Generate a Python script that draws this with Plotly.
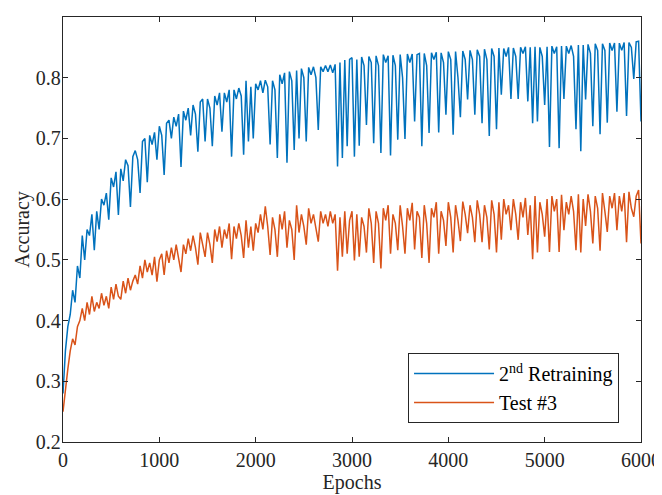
import plotly.graph_objects as go

epoch_step = 25
n_points = 241

retraining_acc = [
    0.28, 0.35, 0.39, 0.41, 0.45, 0.43, 0.49, 0.47, 0.54, 0.50,
    0.55, 0.54, 0.575, 0.516, 0.58, 0.55, 0.60, 0.59, 0.61, 0.566,
    0.635, 0.62, 0.645, 0.574, 0.65, 0.63, 0.665, 0.655, 0.587, 0.67,
    0.68, 0.665, 0.61, 0.695, 0.70, 0.628, 0.705, 0.69, 0.71, 0.665,
    0.72, 0.705, 0.64, 0.725, 0.73, 0.70, 0.735, 0.72, 0.74, 0.653,
    0.745, 0.73, 0.75, 0.705, 0.755, 0.74, 0.678, 0.76, 0.765, 0.695,
    0.765, 0.75, 0.687, 0.77, 0.755, 0.775, 0.711, 0.775, 0.76, 0.78,
    0.670, 0.78, 0.765, 0.783, 0.77, 0.673, 0.795, 0.695, 0.785, 0.70,
    0.79, 0.78, 0.795, 0.775, 0.796, 0.785, 0.69, 0.795, 0.78, 0.668,
    0.805, 0.79, 0.808, 0.66, 0.81, 0.795, 0.681, 0.812, 0.70, 0.815,
    0.80, 0.695, 0.817, 0.805, 0.818, 0.80, 0.714, 0.818, 0.81, 0.82,
    0.81, 0.821, 0.808, 0.822, 0.654, 0.825, 0.668, 0.829, 0.687, 0.83,
    0.833, 0.67, 0.83, 0.688, 0.834, 0.82, 0.722, 0.835, 0.825, 0.692,
    0.836, 0.82, 0.676, 0.838, 0.825, 0.836, 0.672, 0.837, 0.82, 0.698,
    0.838, 0.80, 0.699, 0.839, 0.825, 0.839, 0.728, 0.838, 0.84, 0.687,
    0.84, 0.82, 0.709, 0.841, 0.83, 0.842, 0.71, 0.841, 0.825, 0.739,
    0.843, 0.83, 0.706, 0.843, 0.80, 0.735, 0.844, 0.83, 0.764, 0.845,
    0.83, 0.739, 0.846, 0.835, 0.725, 0.847, 0.83, 0.704, 0.848, 0.835,
    0.715, 0.849, 0.772, 0.848, 0.835, 0.85, 0.765, 0.849, 0.835, 0.765,
    0.85, 0.84, 0.851, 0.761, 0.85, 0.725, 0.851, 0.728, 0.85, 0.835,
    0.755, 0.851, 0.686, 0.852, 0.84, 0.851, 0.684, 0.852, 0.765, 0.852,
    0.84, 0.853, 0.835, 0.715, 0.854, 0.679, 0.854, 0.764, 0.855, 0.84,
    0.72, 0.856, 0.845, 0.707, 0.856, 0.845, 0.726, 0.857, 0.845, 0.857,
    0.744, 0.857, 0.845, 0.858, 0.737, 0.858, 0.85, 0.798, 0.859, 0.86,
    0.728,
]

test3_acc = [
    0.25, 0.29, 0.32, 0.35, 0.37, 0.36, 0.39, 0.40, 0.42, 0.40,
    0.43, 0.41, 0.44, 0.415, 0.43, 0.42, 0.445, 0.425, 0.44, 0.42,
    0.455, 0.435, 0.46, 0.44, 0.435, 0.465, 0.445, 0.47, 0.45, 0.465,
    0.475, 0.46, 0.49, 0.47, 0.50, 0.48, 0.495, 0.475, 0.505, 0.464,
    0.50, 0.51, 0.475, 0.515, 0.495, 0.52, 0.50, 0.525, 0.505, 0.48,
    0.525, 0.51, 0.535, 0.515, 0.54, 0.52, 0.492, 0.545, 0.525, 0.505,
    0.545, 0.525, 0.495, 0.55, 0.53, 0.555, 0.52, 0.55, 0.535, 0.56,
    0.501, 0.555, 0.535, 0.56, 0.54, 0.503, 0.565, 0.52, 0.555, 0.515,
    0.56, 0.545, 0.575, 0.55, 0.588, 0.555, 0.508, 0.57, 0.55, 0.505,
    0.575, 0.55, 0.58, 0.52, 0.565, 0.55, 0.50, 0.59, 0.545, 0.575,
    0.555, 0.525, 0.585, 0.56, 0.575, 0.55, 0.53, 0.58, 0.56, 0.575,
    0.555, 0.58, 0.56, 0.575, 0.482, 0.57, 0.505, 0.58, 0.51, 0.565,
    0.58, 0.499, 0.575, 0.505, 0.57, 0.555, 0.512, 0.585, 0.56, 0.495,
    0.58, 0.56, 0.486, 0.585, 0.565, 0.59, 0.51, 0.575, 0.56, 0.516,
    0.59, 0.555, 0.51, 0.585, 0.565, 0.594, 0.517, 0.58, 0.57, 0.503,
    0.59, 0.56, 0.495, 0.585, 0.57, 0.595, 0.51, 0.58, 0.565, 0.523,
    0.595, 0.57, 0.512, 0.59, 0.565, 0.531, 0.596, 0.575, 0.544, 0.59,
    0.57, 0.529, 0.598, 0.575, 0.529, 0.59, 0.57, 0.517, 0.598, 0.575,
    0.512, 0.595, 0.533, 0.60, 0.575, 0.59, 0.549, 0.60, 0.575, 0.533,
    0.595, 0.57, 0.602, 0.541, 0.59, 0.501, 0.605, 0.512, 0.595, 0.575,
    0.538, 0.60, 0.513, 0.605, 0.58, 0.60, 0.513, 0.607, 0.549, 0.595,
    0.575, 0.605, 0.58, 0.516, 0.608, 0.512, 0.60, 0.556, 0.608, 0.58,
    0.527, 0.605, 0.585, 0.515, 0.61, 0.58, 0.546, 0.605, 0.585, 0.61,
    0.549, 0.605, 0.58, 0.61, 0.529, 0.612, 0.585, 0.571, 0.605, 0.615,
    0.527,
]

epochs = [i * epoch_step for i in range(n_points)]

x_ticks = [0, 1000, 2000, 3000, 4000, 5000, 6000]
y_ticks = [0.2, 0.3, 0.4, 0.5, 0.6, 0.7, 0.8, 0.9]

series_names = ["2<sup>nd</sup> Retraining", "Test #3"]
series_colors = ["#0072BD", "#D95319"]

fig = go.Figure()
for name, vals, col in zip(series_names, [retraining_acc, test3_acc], series_colors):
    fig.add_trace(go.Scatter(
        x=epochs, y=vals, mode="lines", name=name,
        line=dict(color=col, width=1.5),
    ))

font_family = "Liberation Serif, Times New Roman, serif"
axis_common = dict(
    showline=True, linecolor="#262626", linewidth=1.3, mirror="ticks",
    ticks="inside", ticklen=5, tickwidth=1.3, tickcolor="#262626",
    showgrid=False, zeroline=False, automargin=False,
    tickfont=dict(family=font_family, size=20, color="#262626"),
)

# the page body has an 8px margin, so the figure is sized to fit inside it
fig.update_layout(
    width=654, height=487,
    margin=dict(l=55, r=21, t=9, b=53),
    paper_bgcolor="white", plot_bgcolor="white",
    font=dict(family=font_family, size=20, color="#262626"),
    xaxis=dict(range=[0, 6000], tickvals=x_ticks,
               ticktext=[str(v) for v in x_ticks],
               title=dict(text="Epochs", standoff=0,
                          font=dict(family=font_family, size=20)),
               **axis_common),
    yaxis=dict(range=[0.2, 0.9], tickvals=y_ticks,
               ticktext=[f"{v:.1f}" for v in y_ticks],
               ticklabelstandoff=-3,
               title=dict(text="Accuracy", standoff=0,
                          font=dict(family=font_family, size=20)),
               **axis_common),
    legend=dict(
        x=0.962, xanchor="right", y=0.045, yanchor="bottom",
        bgcolor="white", bordercolor="#262626", borderwidth=1,
        font=dict(family=font_family, size=20, color="#000000"),
        itemwidth=80, tracegroupgap=0,
    ),
    showlegend=True,
)

fig.write_html("out.html")
